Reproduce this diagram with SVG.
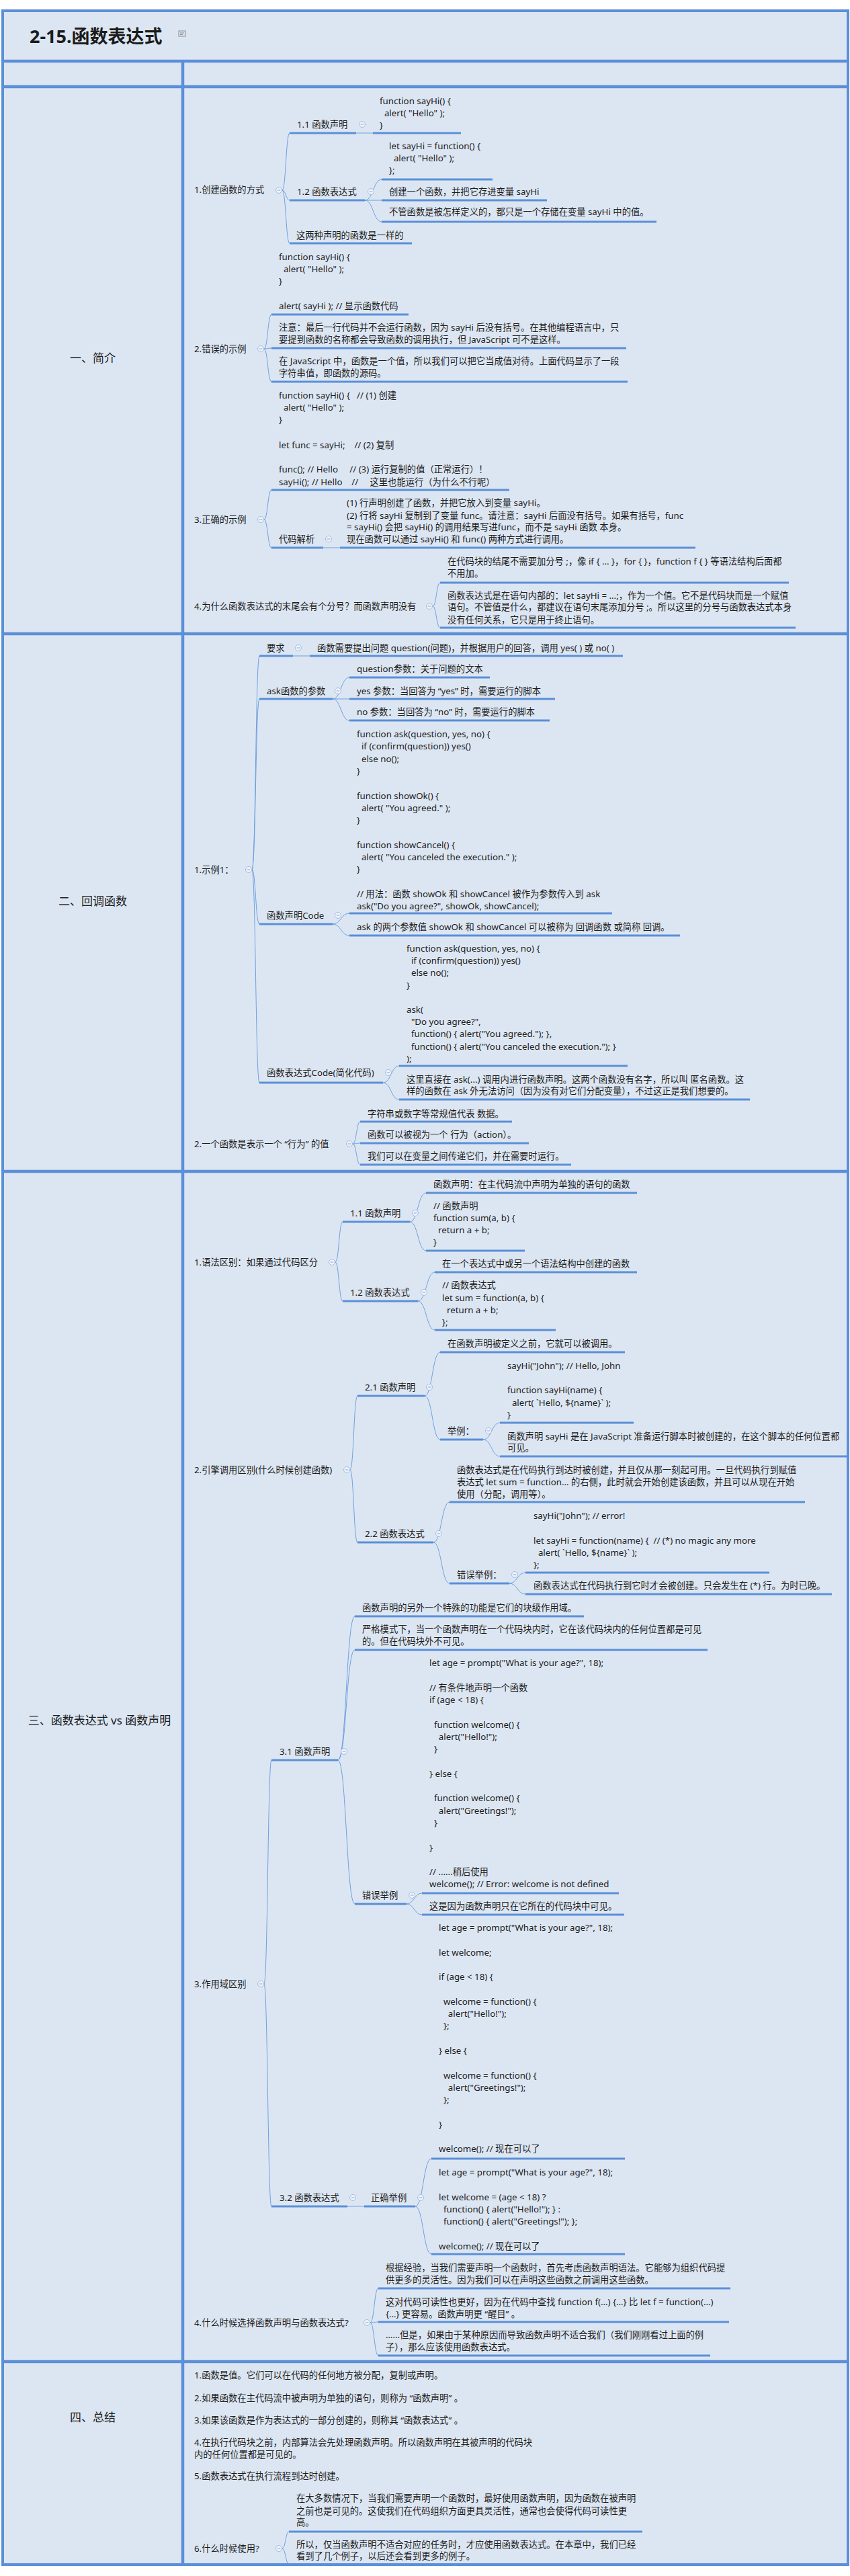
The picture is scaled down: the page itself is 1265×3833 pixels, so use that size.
<svg xmlns="http://www.w3.org/2000/svg" xmlns:xlink="http://www.w3.org/1999/xlink" width="1265" height="3833" viewBox="0 0 1265 3833">
<style>
.t{font-family:"Noto Sans","Noto Sans CJK SC",sans-serif;font-size:13.3px;fill:#1c1c1c;white-space:pre}
.lab{font-family:"Noto Sans","Noto Sans CJK SC",sans-serif;font-size:17px;fill:#1c1c1c;text-anchor:middle}
.ttl{font-family:"Noto Sans","Noto Sans CJK SC",sans-serif;font-size:27px;font-weight:bold;fill:#1c1c1c}
.ul{stroke:#5b8fd8;stroke-width:3;fill:none}
.cn{stroke:#6f9fe0;stroke-width:1;fill:none}
.btn{fill:#eef3fb;stroke:#a3bbdf;stroke-width:1}
.bm{stroke:#86a6d4;stroke-width:1}
.frame{fill:#dce6f2;stroke:#5b8fd8;stroke-width:4}
.sep{stroke:#5b8fd8;stroke-width:4.5}
.ico{fill:none;stroke:#8a8a8a;stroke-width:1}
</style>
<defs>
<g id="b"><circle r="4.5" class="btn"/><line x1="-2.3" y1="0" x2="2.3" y2="0" class="bm"/></g>
</defs>
<rect width="1265" height="3833" fill="#ffffff"/>
<g id="frame">
<rect x="4" y="16" width="1258" height="3800" class="frame"/>
<line x1="4" y1="91" x2="1262" y2="91" class="sep"/>
<line x1="4" y1="129" x2="1262" y2="129" class="sep"/>
<line x1="4" y1="943" x2="1262" y2="943" class="sep"/>
<line x1="4" y1="1743" x2="1262" y2="1743" class="sep"/>
<line x1="4" y1="3514" x2="1262" y2="3514" class="sep"/>
<line x1="272" y1="91" x2="272" y2="3816" class="sep"/>
</g>
<g id="title"><text x="44" y="64" class="ttl">2-15.函数表达式</text><g class="ico"><rect x="266" y="46" width="10" height="8"/><line x1="268" y1="49" x2="274" y2="49"/><line x1="268" y1="51.5" x2="272" y2="51.5"/></g></g>
<g id="labels">
<text x="138" y="539" class="lab">一、简介</text>
<text x="138" y="1347" class="lab">二、回调函数</text>
<text x="148" y="2566" class="lab">三、函数表达式 vs 函数声明</text>
<text x="138" y="3603" class="lab">四、总结</text>
</g>
<g id="connectors">
<path class="cn" d="M420 283C425.5 283 425.5 198 431 198M420 283C425.5 283 425.5 298 431 298M420 283C425.5 283 425.5 362 431 362"/>
<path class="cn" d="M530 198H555"/>
<path class="cn" d="M543 298C555.5 298 555.5 267 568 267M543 298H568M543 298C555.5 298 555.5 330 568 330"/>
<path class="cn" d="M393 519C398.5 519 398.5 468 404 468M393 519C398.5 519 398.5 518 404 518M393 519C398.5 519 398.5 568 404 568"/>
<path class="cn" d="M393 773C398.5 773 398.5 729 404 729M393 773C398.5 773 398.5 815 404 815"/>
<path class="cn" d="M481 815H506"/>
<path class="cn" d="M644 902C649.5 902 649.5 867 655 867M644 902C649.5 902 649.5 934 655 934"/>
<path class="cn" d="M375 1294C380.5 1294 380.5 976 386 976M375 1294C380.5 1294 380.5 1040 386 1040M375 1294C380.5 1294 380.5 1375 386 1375M375 1294C380.5 1294 380.5 1611 386 1611"/>
<path class="cn" d="M436 976H461"/>
<path class="cn" d="M495 1040C507.5 1040 507.5 1008 520 1008M495 1040H520M495 1040C507.5 1040 507.5 1072 520 1072"/>
<path class="cn" d="M495 1375C507.5 1375 507.5 1359 520 1359M495 1375C507.5 1375 507.5 1392 520 1392"/>
<path class="cn" d="M570 1611C582 1611 582 1586 594 1586M570 1611C582 1611 582 1636 594 1636"/>
<path class="cn" d="M525 1702C530.5 1702 530.5 1669 536 1669M525 1702C530.5 1702 530.5 1701 536 1701M525 1702C530.5 1702 530.5 1733 536 1733"/>
<path class="cn" d="M499 1878C504.5 1878 504.5 1818 510 1818M499 1878C504.5 1878 504.5 1936 510 1936"/>
<path class="cn" d="M610 1818C622 1818 622 1775 634 1775M610 1818C622 1818 622 1861 634 1861"/>
<path class="cn" d="M622 1936C634.5 1936 634.5 1893 647 1893M622 1936C634.5 1936 634.5 1979 647 1979"/>
<path class="cn" d="M521 2187C526.5 2187 526.5 2077 532 2077M521 2187C526.5 2187 526.5 2295 532 2295"/>
<path class="cn" d="M632 2077C643.5 2077 643.5 2012 655 2012M632 2077C643.5 2077 643.5 2142 655 2142"/>
<path class="cn" d="M719 2142C731.5 2142 731.5 2117 744 2117M719 2142C731.5 2142 731.5 2167 744 2167"/>
<path class="cn" d="M645 2295C657 2295 657 2235 669 2235M645 2295C657 2295 657 2356 669 2356"/>
<path class="cn" d="M758 2356C770 2356 770 2340 782 2340M758 2356C770 2356 770 2372 782 2372"/>
<path class="cn" d="M393 2952C398.5 2952 398.5 2619 404 2619M393 2952C398.5 2952 398.5 3283 404 3283"/>
<path class="cn" d="M503 2619C515.5 2619 515.5 2405 528 2405M503 2619C515.5 2619 515.5 2455 528 2455M503 2619C515.5 2619 515.5 2833 528 2833"/>
<path class="cn" d="M605 2833C616.5 2833 616.5 2817 628 2817M605 2833C616.5 2833 616.5 2849 628 2849"/>
<path class="cn" d="M517 3283H542"/>
<path class="cn" d="M618 3283C630 3283 630 3212 642 3212M618 3283C630 3283 630 3354 642 3354"/>
<path class="cn" d="M551 3456C557 3456 557 3405 563 3405M551 3456C557 3456 557 3455 563 3455M551 3456C557 3456 557 3505 563 3505"/>
<path class="cn" d="M420 3792C425 3792 425 3767 430 3767M420 3792C425 3792 425 3815 430 3815"/>
</g>
<g id="nA"><text class="t" x="289" y="287">1.创建函数的方式</text><use href="#b" x="415" y="283"/></g>
<g id="nA1"><text class="t" x="442" y="190">1.1 函数声明</text><use href="#b" x="539" y="185"/><line class="ul" x1="431" y1="198" x2="530" y2="198"/></g>
<g id="nA1a"><text class="t" xml:space="preserve"><tspan x="565" y="155">function sayHi() {</tspan><tspan x="565" y="173">  alert( "Hello" );</tspan><tspan x="565" y="191">}</tspan></text><line class="ul" x1="555" y1="198" x2="686" y2="198"/></g>
<g id="nA2"><text class="t" x="442" y="290">1.2 函数表达式</text><use href="#b" x="552" y="285"/><line class="ul" x1="431" y1="298" x2="543" y2="298"/></g>
<g id="nA2a"><text class="t" xml:space="preserve"><tspan x="579" y="222">let sayHi = function() {</tspan><tspan x="579" y="240">  alert( "Hello" );</tspan><tspan x="579" y="258">};</tspan></text><line class="ul" x1="568" y1="267" x2="733" y2="267"/></g>
<g id="nA2b"><text class="t" x="579" y="290">创建一个函数，并把它存进变量 sayHi</text><line class="ul" x1="568" y1="298" x2="814" y2="298"/></g>
<g id="nA2c"><text class="t" x="579" y="320">不管函数是被怎样定义的，都只是一个存储在变量 sayHi 中的值。</text><line class="ul" x1="568" y1="330" x2="977" y2="330"/></g>
<g id="nA3"><text class="t" x="441" y="355">这两种声明的函数是一样的</text><line class="ul" x1="431" y1="362" x2="613" y2="362"/></g>
<g id="nB"><text class="t" x="289" y="524">2.错误的示例</text><use href="#b" x="388" y="519"/></g>
<g id="nB1"><text class="t" xml:space="preserve"><tspan x="415" y="387">function sayHi() {</tspan><tspan x="415" y="405">  alert( "Hello" );</tspan><tspan x="415" y="423">}</tspan><tspan x="415" y="460">alert( sayHi ); // 显示函数代码</tspan></text><line class="ul" x1="404" y1="468" x2="608" y2="468"/></g>
<g id="nB2"><text class="t"><tspan x="415" y="492">注意：最后一行代码并不会运行函数，因为 sayHi 后没有括号。在其他编程语言中，只</tspan><tspan x="415" y="510">要提到函数的名称都会导致函数的调用执行，但 JavaScript 可不是这样。</tspan></text><line class="ul" x1="404" y1="518" x2="932" y2="518"/></g>
<g id="nB3"><text class="t"><tspan x="415" y="542">在 JavaScript 中，函数是一个值，所以我们可以把它当成值对待。上面代码显示了一段</tspan><tspan x="415" y="560">字符串值，即函数的源码。</tspan></text><line class="ul" x1="404" y1="568" x2="934" y2="568"/></g>
<g id="nC"><text class="t" x="289" y="778">3.正确的示例</text><use href="#b" x="388" y="773"/></g>
<g id="nC1"><text class="t" xml:space="preserve"><tspan x="415" y="593">function sayHi() {   // (1) 创建</tspan><tspan x="415" y="611">  alert( "Hello" );</tspan><tspan x="415" y="629">}</tspan><tspan x="415" y="667">let func = sayHi;    // (2) 复制</tspan><tspan x="415" y="703">func(); // Hello     // (3) 运行复制的值（正常运行）！</tspan><tspan x="415" y="722">sayHi(); // Hello    //     这里也能运行（为什么不行呢）</tspan></text><line class="ul" x1="404" y1="729" x2="758" y2="729"/></g>
<g id="nC2"><text class="t" x="415" y="807">代码解析</text><use href="#b" x="489" y="802"/><line class="ul" x1="404" y1="815" x2="481" y2="815"/></g>
<g id="nC2a"><text class="t"><tspan x="516" y="753">(1) 行声明创建了函数，并把它放入到变量 sayHi。</tspan><tspan x="516" y="772">(2) 行将 sayHi 复制到了变量 func。请注意：sayHi 后面没有括号。如果有括号，func</tspan><tspan x="516" y="789">= sayHi() 会把 sayHi() 的调用结果写进func，而不是 sayHi 函数 本身。</tspan><tspan x="516" y="807">现在函数可以通过 sayHi() 和 func() 两种方式进行调用。</tspan></text><line class="ul" x1="506" y1="815" x2="1035" y2="815"/></g>
<g id="nD"><text class="t" x="289" y="907">4.为什么函数表达式的末尾会有个分号？而函数声明没有</text><use href="#b" x="639" y="902"/></g>
<g id="nD1"><text class="t"><tspan x="666" y="840">在代码块的结尾不需要加分号 ;，像 if { ... }，for { }，function f { } 等语法结构后面都</tspan><tspan x="666" y="858">不用加。</tspan></text><line class="ul" x1="655" y1="867" x2="1174" y2="867"/></g>
<g id="nD2"><text class="t"><tspan x="666" y="891">函数表达式是在语句内部的：let sayHi = ...;，作为一个值。它不是代码块而是一个赋值</tspan><tspan x="666" y="908">语句。不管值是什么，都建议在语句末尾添加分号 ;。所以这里的分号与函数表达式本身</tspan><tspan x="666" y="927">没有任何关系，它只是用于终止语句。</tspan></text><line class="ul" x1="655" y1="934" x2="1184" y2="934"/></g>
<g id="nE"><text class="t" x="289" y="1299">1.示例1：</text><use href="#b" x="370" y="1294"/></g>
<g id="nE1"><text class="t" x="397" y="969">要求</text><use href="#b" x="444" y="964"/><line class="ul" x1="386" y1="976" x2="436" y2="976"/></g>
<g id="nE1a"><text class="t" x="472" y="969">函数需要提出问题 question(问题)，并根据用户的回答，调用 yes( ) 或 no( )</text><line class="ul" x1="461" y1="976" x2="927" y2="976"/></g>
<g id="nE2"><text class="t" x="397" y="1033">ask函数的参数</text><use href="#b" x="503" y="1028"/><line class="ul" x1="386" y1="1040" x2="495" y2="1040"/></g>
<g id="nE2a"><text class="t" x="531" y="1000">question参数：关于问题的文本</text><line class="ul" x1="520" y1="1008" x2="729" y2="1008"/></g>
<g id="nE2b"><text class="t" x="531" y="1033">yes 参数：当回答为 “yes” 时，需要运行的脚本</text><line class="ul" x1="520" y1="1040" x2="826" y2="1040"/></g>
<g id="nE2c"><text class="t" x="531" y="1064">no 参数：当回答为 “no” 时，需要运行的脚本</text><line class="ul" x1="520" y1="1072" x2="818" y2="1072"/></g>
<g id="nE3"><text class="t" x="397" y="1367">函数声明Code</text><use href="#b" x="503" y="1362"/><line class="ul" x1="386" y1="1375" x2="495" y2="1375"/></g>
<g id="nE3a"><text class="t" xml:space="preserve"><tspan x="531" y="1097">function ask(question, yes, no) {</tspan><tspan x="531" y="1115.3">  if (confirm(question)) yes()</tspan><tspan x="531" y="1133.6">  else no();</tspan><tspan x="531" y="1151.9">}</tspan><tspan x="531" y="1188.5">function showOk() {</tspan><tspan x="531" y="1206.8">  alert( "You agreed." );</tspan><tspan x="531" y="1225.1">}</tspan><tspan x="531" y="1261.7">function showCancel() {</tspan><tspan x="531" y="1280">  alert( "You canceled the execution." );</tspan><tspan x="531" y="1298.3">}</tspan><tspan x="531" y="1334.9">// 用法：函数 showOk 和 showCancel 被作为参数传入到 ask</tspan><tspan x="531" y="1353.2">ask("Do you agree?", showOk, showCancel);</tspan></text><line class="ul" x1="520" y1="1359" x2="911" y2="1359"/></g>
<g id="nE3b"><text class="t" x="531" y="1384">ask 的两个参数值 showOk 和 showCancel 可以被称为 回调函数 或简称 回调。</text><line class="ul" x1="520" y1="1392" x2="1012" y2="1392"/></g>
<g id="nE4"><text class="t" x="397" y="1601">函数表达式Code(简化代码)</text><use href="#b" x="578" y="1596"/><line class="ul" x1="386" y1="1611" x2="570" y2="1611"/></g>
<g id="nE4a"><text class="t" xml:space="preserve"><tspan x="605" y="1416">function ask(question, yes, no) {</tspan><tspan x="605" y="1434.2">  if (confirm(question)) yes()</tspan><tspan x="605" y="1452.4">  else no();</tspan><tspan x="605" y="1470.6">}</tspan><tspan x="605" y="1507">ask(</tspan><tspan x="605" y="1525.2">  "Do you agree?",</tspan><tspan x="605" y="1543.4">  function() { alert("You agreed."); },</tspan><tspan x="605" y="1561.6">  function() { alert("You canceled the execution."); }</tspan><tspan x="605" y="1579.8">);</tspan></text><line class="ul" x1="594" y1="1586" x2="934" y2="1586"/></g>
<g id="nE4b"><text class="t"><tspan x="605" y="1611">这里直接在 ask(...) 调用内进行函数声明。这两个函数没有名字，所以叫 匿名函数。这</tspan><tspan x="605" y="1628">样的函数在 ask 外无法访问（因为没有对它们分配变量），不过这正是我们想要的。</tspan></text><line class="ul" x1="594" y1="1636" x2="1116" y2="1636"/></g>
<g id="nF"><text class="t" x="289" y="1707">2.一个函数是表示一个 “行为” 的值</text><use href="#b" x="520" y="1702"/></g>
<g id="nF1"><text class="t" x="547" y="1662">字符串或数字等常规值代表 数据。</text><line class="ul" x1="536" y1="1669" x2="762" y2="1669"/></g>
<g id="nF2"><text class="t" x="547" y="1693">函数可以被视为一个 行为（action）。</text><line class="ul" x1="536" y1="1701" x2="787" y2="1701"/></g>
<g id="nF3"><text class="t" x="547" y="1725">我们可以在变量之间传递它们，并在需要时运行。</text><line class="ul" x1="536" y1="1733" x2="850" y2="1733"/></g>
<g id="nG"><text class="t" x="289" y="1883">1.语法区别：如果通过代码区分</text><use href="#b" x="494" y="1878"/></g>
<g id="nG1"><text class="t" x="521" y="1810">1.1 函数声明</text><use href="#b" x="618" y="1805"/><line class="ul" x1="510" y1="1818" x2="610" y2="1818"/></g>
<g id="nG1a"><text class="t" x="645" y="1767">函数声明：在主代码流中声明为单独的语句的函数</text><line class="ul" x1="634" y1="1775" x2="948" y2="1775"/></g>
<g id="nG1b"><text class="t" xml:space="preserve"><tspan x="645" y="1799">// 函数声明</tspan><tspan x="645" y="1817">function sum(a, b) {</tspan><tspan x="645" y="1835">  return a + b;</tspan><tspan x="645" y="1853">}</tspan></text><line class="ul" x1="634" y1="1861" x2="781" y2="1861"/></g>
<g id="nG2"><text class="t" x="521" y="1928">1.2 函数表达式</text><use href="#b" x="631" y="1923"/><line class="ul" x1="510" y1="1936" x2="622" y2="1936"/></g>
<g id="nG2a"><text class="t" x="658" y="1885">在一个表达式中或另一个语法结构中创建的函数</text><line class="ul" x1="647" y1="1893" x2="948" y2="1893"/></g>
<g id="nG2b"><text class="t" xml:space="preserve"><tspan x="658" y="1917">// 函数表达式</tspan><tspan x="658" y="1936">let sum = function(a, b) {</tspan><tspan x="658" y="1954">  return a + b;</tspan><tspan x="658" y="1972">};</tspan></text><line class="ul" x1="647" y1="1979" x2="827" y2="1979"/></g>
<g id="nH"><text class="t" x="289" y="2192">2.引擎调用区别(什么时候创建函数)</text><use href="#b" x="516" y="2187"/></g>
<g id="nH1"><text class="t" x="543" y="2069">2.1 函数声明</text><use href="#b" x="639" y="2064"/><line class="ul" x1="532" y1="2077" x2="632" y2="2077"/></g>
<g id="nH1a"><text class="t" x="666" y="2004">在函数声明被定义之前，它就可以被调用。</text><line class="ul" x1="655" y1="2012" x2="930" y2="2012"/></g>
<g id="nH1b"><text class="t" x="666" y="2134">举例：</text><use href="#b" x="727" y="2129"/><line class="ul" x1="655" y1="2142" x2="719" y2="2142"/></g>
<g id="nH1b1"><text class="t" xml:space="preserve"><tspan x="755" y="2037">sayHi("John"); // Hello, John</tspan><tspan x="755" y="2073">function sayHi(name) {</tspan><tspan x="755" y="2092">  alert( `Hello, ${name}` );</tspan><tspan x="755" y="2110">}</tspan></text><line class="ul" x1="744" y1="2117" x2="943" y2="2117"/></g>
<g id="nH1b2"><text class="t"><tspan x="755" y="2142">函数声明 sayHi 是在 JavaScript 准备运行脚本时被创建的，在这个脚本的任何位置都</tspan><tspan x="755" y="2159">可见。</tspan></text><line class="ul" x1="744" y1="2167" x2="1261" y2="2167"/></g>
<g id="nH2"><text class="t" x="543" y="2287">2.2 函数表达式</text><use href="#b" x="653" y="2282"/><line class="ul" x1="532" y1="2295" x2="645" y2="2295"/></g>
<g id="nH2a"><text class="t"><tspan x="680" y="2192">函数表达式是在代码执行到达时被创建，并且仅从那一刻起可用。一旦代码执行到赋值</tspan><tspan x="680" y="2210">表达式 let sum = function… 的右侧，此时就会开始创建该函数，并且可以从现在开始</tspan><tspan x="680" y="2228">使用（分配，调用等）。</tspan></text><line class="ul" x1="669" y1="2235" x2="1198" y2="2235"/></g>
<g id="nH2b"><text class="t" x="680" y="2348">错误举例：</text><use href="#b" x="766" y="2343"/><line class="ul" x1="669" y1="2356" x2="758" y2="2356"/></g>
<g id="nH2b1"><text class="t" xml:space="preserve"><tspan x="794" y="2260">sayHi("John"); // error!</tspan><tspan x="794" y="2297">let sayHi = function(name) {  // (*) no magic any more</tspan><tspan x="794" y="2315">  alert( `Hello, ${name}` );</tspan><tspan x="794" y="2333">};</tspan></text><line class="ul" x1="782" y1="2340" x2="1145" y2="2340"/></g>
<g id="nH2b2"><text class="t" x="794" y="2364">函数表达式在代码执行到它时才会被创建。只会发生在 (*) 行。为时已晚。</text><line class="ul" x1="782" y1="2372" x2="1238" y2="2372"/></g>
<g id="nI"><text class="t" x="289" y="2957">3.作用域区别</text><use href="#b" x="388" y="2952"/></g>
<g id="nI1"><text class="t" x="416" y="2611">3.1 函数声明</text><use href="#b" x="512" y="2606"/><line class="ul" x1="404" y1="2619" x2="503" y2="2619"/></g>
<g id="nI1a"><text class="t" x="539" y="2397">函数声明的另外一个特殊的功能是它们的块级作用域。</text><line class="ul" x1="528" y1="2405" x2="869" y2="2405"/></g>
<g id="nI1b"><text class="t"><tspan x="539" y="2429">严格模式下，当一个函数声明在一个代码块内时，它在该代码块内的任何位置都是可见</tspan><tspan x="539" y="2447">的。但在代码块外不可见。</tspan></text><line class="ul" x1="528" y1="2455" x2="1053" y2="2455"/></g>
<g id="nI1c"><text class="t" x="539" y="2825">错误举例</text><use href="#b" x="613" y="2820"/><line class="ul" x1="528" y1="2833" x2="605" y2="2833"/></g>
<g id="nI1c1"><text class="t" xml:space="preserve"><tspan x="639" y="2479">let age = prompt("What is your age?", 18);</tspan><tspan x="639" y="2515.6">// 有条件地声明一个函数</tspan><tspan x="639" y="2533.9">if (age &lt; 18) {</tspan><tspan x="639" y="2570.5">  function welcome() {</tspan><tspan x="639" y="2588.8">    alert("Hello!");</tspan><tspan x="639" y="2607.1">  }</tspan><tspan x="639" y="2643.7">} else {</tspan><tspan x="639" y="2680.3">  function welcome() {</tspan><tspan x="639" y="2698.6">    alert("Greetings!");</tspan><tspan x="639" y="2716.9">  }</tspan><tspan x="639" y="2753.5">}</tspan><tspan x="639" y="2790.1">// ......稍后使用</tspan><tspan x="639" y="2808.4">welcome(); // Error: welcome is not defined</tspan></text><line class="ul" x1="628" y1="2817" x2="921" y2="2817"/></g>
<g id="nI1c2"><text class="t" x="639" y="2841">这是因为函数声明只在它所在的代码块中可见。</text><line class="ul" x1="628" y1="2849" x2="929" y2="2849"/></g>
<g id="nI2"><text class="t" x="416" y="3275">3.2 函数表达式</text><use href="#b" x="525" y="3270"/><line class="ul" x1="404" y1="3283" x2="517" y2="3283"/></g>
<g id="nI2a"><text class="t" x="552" y="3275">正确举例</text><use href="#b" x="626" y="3270"/><line class="ul" x1="542" y1="3283" x2="618" y2="3283"/></g>
<g id="nI2a1"><text class="t" xml:space="preserve"><tspan x="653" y="2873">let age = prompt("What is your age?", 18);</tspan><tspan x="653" y="2909.6">let welcome;</tspan><tspan x="653" y="2946.2">if (age &lt; 18) {</tspan><tspan x="653" y="2982.8">  welcome = function() {</tspan><tspan x="653" y="3001.1">    alert("Hello!");</tspan><tspan x="653" y="3019.4">  };</tspan><tspan x="653" y="3056">} else {</tspan><tspan x="653" y="3092.6">  welcome = function() {</tspan><tspan x="653" y="3110.9">    alert("Greetings!");</tspan><tspan x="653" y="3129.2">  };</tspan><tspan x="653" y="3165.8">}</tspan><tspan x="653" y="3202.4">welcome(); // 现在可以了</tspan></text><line class="ul" x1="642" y1="3212" x2="930" y2="3212"/></g>
<g id="nI2a2"><text class="t" xml:space="preserve"><tspan x="653" y="3237">let age = prompt("What is your age?", 18);</tspan><tspan x="653" y="3273.6">let welcome = (age &lt; 18) ?</tspan><tspan x="653" y="3291.9">  function() { alert("Hello!"); } :</tspan><tspan x="653" y="3310.2">  function() { alert("Greetings!"); };</tspan><tspan x="653" y="3346.8">welcome(); // 现在可以了</tspan></text><line class="ul" x1="642" y1="3354" x2="930" y2="3354"/></g>
<g id="nJ"><text class="t" x="289" y="3461">4.什么时候选择函数声明与函数表达式?</text><use href="#b" x="546" y="3456"/></g>
<g id="nJ1"><text class="t"><tspan x="574" y="3379">根据经验，当我们需要声明一个函数时，首先考虑函数声明语法。它能够为组织代码提</tspan><tspan x="574" y="3397">供更多的灵活性。因为我们可以在声明这些函数之前调用这些函数。</tspan></text><line class="ul" x1="563" y1="3405" x2="1087" y2="3405"/></g>
<g id="nJ2"><text class="t"><tspan x="574" y="3430">这对代码可读性也更好，因为在代码中查找 function f(…) {…} 比 let f = function(…)</tspan><tspan x="574" y="3448">{…} 更容易。函数声明更 “醒目” 。</tspan></text><line class="ul" x1="563" y1="3455" x2="1085" y2="3455"/></g>
<g id="nJ3"><text class="t"><tspan x="574" y="3479">……但是，如果由于某种原因而导致函数声明不适合我们（我们刚刚看过上面的例</tspan><tspan x="574" y="3497">子），那么应该使用函数表达式。</tspan></text><line class="ul" x1="563" y1="3505" x2="1057" y2="3505"/></g>
<g id="nK1"><text class="t" x="289" y="3539">1.函数是值。它们可以在代码的任何地方被分配，复制或声明。</text></g>
<g id="nK2"><text class="t" x="289" y="3573">2.如果函数在主代码流中被声明为单独的语句，则称为 “函数声明” 。</text></g>
<g id="nK3"><text class="t" x="289" y="3606">3.如果该函数是作为表达式的一部分创建的，则称其 “函数表达式” 。</text></g>
<g id="nK4"><text class="t"><tspan x="289" y="3639">4.在执行代码块之前，内部算法会先处理函数声明。所以函数声明在其被声明的代码块</tspan><tspan x="289" y="3657">内的任何位置都是可见的。</tspan></text></g>
<g id="nK5"><text class="t" x="289" y="3689">5.函数表达式在执行流程到达时创建。</text></g>
<g id="nK6"><text class="t" x="289" y="3797">6.什么时候使用?</text><use href="#b" x="415" y="3792"/></g>
<g id="nK6a"><text class="t"><tspan x="441" y="3722">在大多数情况下，当我们需要声明一个函数时，最好使用函数声明，因为函数在被声明</tspan><tspan x="441" y="3741">之前也是可见的。这使我们在代码组织方面更具灵活性，通常也会使得代码可读性更</tspan><tspan x="441" y="3758">高。</tspan></text><line class="ul" x1="430" y1="3767" x2="956" y2="3767"/></g>
<g id="nK6b"><text class="t"><tspan x="441" y="3791">所以，仅当函数声明不适合对应的任务时，才应使用函数表达式。在本章中，我们已经</tspan><tspan x="441" y="3808">看到了几个例子，以后还会看到更多的例子。</tspan></text></g>
</svg>
